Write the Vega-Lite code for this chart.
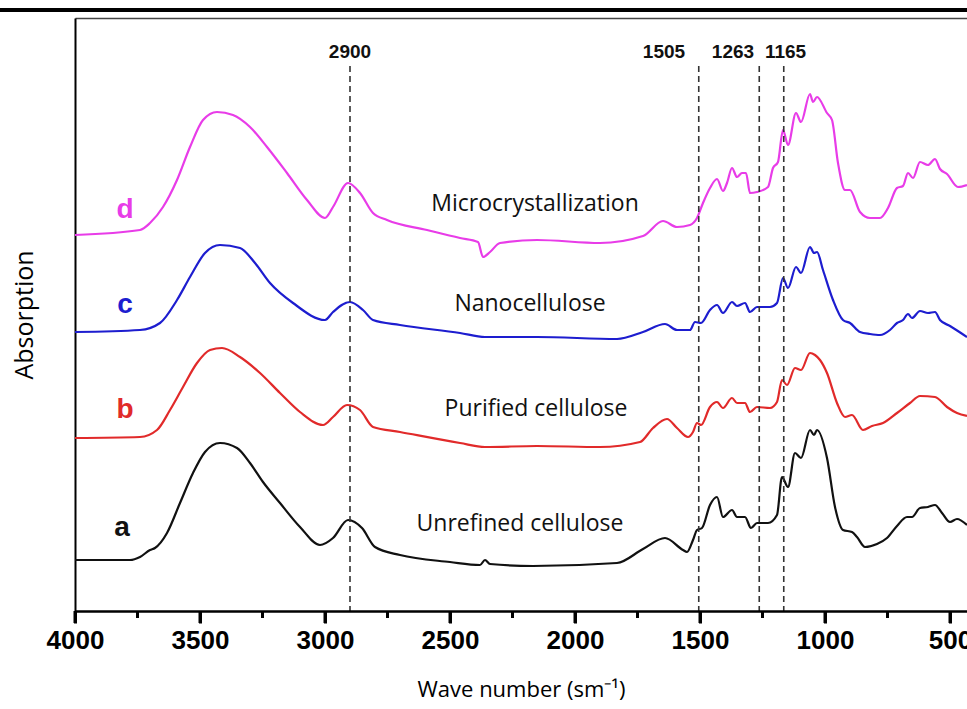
{
"$schema": "https://vega.github.io/schema/vega-lite/v6.json",
"width": 892, "height": 593,
"autosize": "none",
"padding": {"left": 75, "top": 18, "right": 0, "bottom": 98},
"background": "white",
"config": {"view": {"stroke": null}, "axis": {"grid": false}},
"datasets": {
"curves": [
{"s":"d","w":4000,"a":373},{"s":"d","w":3740,"a":378},{"s":"d","w":3700,"a":385},{"s":"d","w":3648,"a":401},{"s":"d","w":3592,"a":428},{"s":"d","w":3540,"a":461},{"s":"d","w":3488,"a":488},{"s":"d","w":3432,"a":496},{"s":"d","w":3368,"a":493},{"s":"d","w":3300,"a":481},{"s":"d","w":3232,"a":461},{"s":"d","w":3152,"a":435},{"s":"d","w":3072,"a":408},{"s":"d","w":3000,"a":390},{"s":"d","w":2968,"a":401},{"s":"d","w":2908,"a":425},{"s":"d","w":2860,"a":415},{"s":"d","w":2808,"a":395},{"s":"d","w":2752,"a":388},{"s":"d","w":2592,"a":378},{"s":"d","w":2460,"a":370},{"s":"d","w":2388,"a":366},{"s":"d","w":2368,"a":351},{"s":"d","w":2340,"a":356},{"s":"d","w":2300,"a":365},{"s":"d","w":2152,"a":368},{"s":"d","w":1900,"a":365},{"s":"d","w":1728,"a":372},{"s":"d","w":1648,"a":387},{"s":"d","w":1592,"a":381},{"s":"d","w":1540,"a":383},{"s":"d","w":1512,"a":390},{"s":"d","w":1488,"a":405},{"s":"d","w":1460,"a":420},{"s":"d","w":1432,"a":429},{"s":"d","w":1408,"a":417},{"s":"d","w":1392,"a":425},{"s":"d","w":1372,"a":440},{"s":"d","w":1352,"a":431},{"s":"d","w":1332,"a":435},{"s":"d","w":1316,"a":435},{"s":"d","w":1300,"a":415},{"s":"d","w":1272,"a":416},{"s":"d","w":1228,"a":421},{"s":"d","w":1208,"a":440},{"s":"d","w":1188,"a":446},{"s":"d","w":1168,"a":478},{"s":"d","w":1148,"a":463},{"s":"d","w":1116,"a":495},{"s":"d","w":1096,"a":486},{"s":"d","w":1060,"a":514},{"s":"d","w":1048,"a":506},{"s":"d","w":1032,"a":511},{"s":"d","w":992,"a":495},{"s":"d","w":972,"a":488},{"s":"d","w":948,"a":445},{"s":"d","w":920,"a":418},{"s":"d","w":900,"a":418},{"s":"d","w":860,"a":396},{"s":"d","w":820,"a":390},{"s":"d","w":780,"a":390},{"s":"d","w":748,"a":400},{"s":"d","w":712,"a":420},{"s":"d","w":688,"a":422},{"s":"d","w":668,"a":435},{"s":"d","w":648,"a":430},{"s":"d","w":620,"a":446},{"s":"d","w":588,"a":443},{"s":"d","w":560,"a":449},{"s":"d","w":540,"a":439},{"s":"d","w":512,"a":434},{"s":"d","w":468,"a":421},{"s":"d","w":432,"a":423},
{"s":"c","w":4000,"a":276},{"s":"c","w":3740,"a":278},{"s":"c","w":3660,"a":285},{"s":"c","w":3592,"a":308},{"s":"c","w":3540,"a":331},{"s":"c","w":3480,"a":355},{"s":"c","w":3420,"a":363},{"s":"c","w":3340,"a":360},{"s":"c","w":3280,"a":345},{"s":"c","w":3220,"a":325},{"s":"c","w":3128,"a":305},{"s":"c","w":3000,"a":288},{"s":"c","w":2968,"a":296},{"s":"c","w":2900,"a":306},{"s":"c","w":2848,"a":298},{"s":"c","w":2808,"a":288},{"s":"c","w":2700,"a":283},{"s":"c","w":2460,"a":275},{"s":"c","w":2360,"a":271},{"s":"c","w":2152,"a":271},{"s":"c","w":1832,"a":269},{"s":"c","w":1728,"a":276},{"s":"c","w":1640,"a":284},{"s":"c","w":1592,"a":278},{"s":"c","w":1540,"a":278},{"s":"c","w":1520,"a":286},{"s":"c","w":1496,"a":285},{"s":"c","w":1460,"a":298},{"s":"c","w":1432,"a":303},{"s":"c","w":1408,"a":295},{"s":"c","w":1372,"a":306},{"s":"c","w":1352,"a":302},{"s":"c","w":1320,"a":305},{"s":"c","w":1300,"a":296},{"s":"c","w":1272,"a":301},{"s":"c","w":1220,"a":301},{"s":"c","w":1192,"a":305},{"s":"c","w":1168,"a":330},{"s":"c","w":1148,"a":320},{"s":"c","w":1116,"a":341},{"s":"c","w":1096,"a":335},{"s":"c","w":1060,"a":361},{"s":"c","w":1044,"a":355},{"s":"c","w":1032,"a":356},{"s":"c","w":1008,"a":338},{"s":"c","w":968,"a":308},{"s":"c","w":928,"a":288},{"s":"c","w":900,"a":285},{"s":"c","w":860,"a":276},{"s":"c","w":820,"a":274},{"s":"c","w":780,"a":273},{"s":"c","w":740,"a":278},{"s":"c","w":712,"a":285},{"s":"c","w":688,"a":288},{"s":"c","w":668,"a":294},{"s":"c","w":652,"a":290},{"s":"c","w":620,"a":297},{"s":"c","w":588,"a":295},{"s":"c","w":560,"a":296},{"s":"c","w":540,"a":288},{"s":"c","w":500,"a":282},{"s":"c","w":432,"a":271},
{"s":"b","w":4000,"a":170},{"s":"b","w":3740,"a":171},{"s":"b","w":3672,"a":178},{"s":"b","w":3620,"a":198},{"s":"b","w":3568,"a":221},{"s":"b","w":3512,"a":245},{"s":"b","w":3460,"a":258},{"s":"b","w":3412,"a":260},{"s":"b","w":3340,"a":251},{"s":"b","w":3260,"a":235},{"s":"b","w":3180,"a":215},{"s":"b","w":3100,"a":196},{"s":"b","w":3008,"a":183},{"s":"b","w":2968,"a":191},{"s":"b","w":2912,"a":203},{"s":"b","w":2860,"a":198},{"s":"b","w":2808,"a":181},{"s":"b","w":2700,"a":176},{"s":"b","w":2460,"a":165},{"s":"b","w":2360,"a":161},{"s":"b","w":2152,"a":162},{"s":"b","w":1900,"a":161},{"s":"b","w":1740,"a":166},{"s":"b","w":1688,"a":180},{"s":"b","w":1632,"a":189},{"s":"b","w":1592,"a":180},{"s":"b","w":1548,"a":171},{"s":"b","w":1528,"a":176},{"s":"b","w":1512,"a":185},{"s":"b","w":1496,"a":183},{"s":"b","w":1460,"a":201},{"s":"b","w":1432,"a":206},{"s":"b","w":1408,"a":200},{"s":"b","w":1372,"a":210},{"s":"b","w":1352,"a":205},{"s":"b","w":1320,"a":205},{"s":"b","w":1300,"a":196},{"s":"b","w":1272,"a":201},{"s":"b","w":1220,"a":200},{"s":"b","w":1192,"a":206},{"s":"b","w":1172,"a":228},{"s":"b","w":1152,"a":223},{"s":"b","w":1120,"a":240},{"s":"b","w":1096,"a":238},{"s":"b","w":1060,"a":255},{"s":"b","w":1040,"a":253},{"s":"b","w":1020,"a":248},{"s":"b","w":992,"a":235},{"s":"b","w":952,"a":205},{"s":"b","w":920,"a":191},{"s":"b","w":892,"a":193},{"s":"b","w":848,"a":178},{"s":"b","w":812,"a":182},{"s":"b","w":768,"a":185},{"s":"b","w":712,"a":195},{"s":"b","w":660,"a":205},{"s":"b","w":620,"a":212},{"s":"b","w":560,"a":211},{"s":"b","w":512,"a":201},{"s":"b","w":472,"a":195},{"s":"b","w":432,"a":192},
{"s":"a","w":4000,"a":48},{"s":"a","w":3780,"a":48},{"s":"a","w":3740,"a":51},{"s":"a","w":3700,"a":58},{"s":"a","w":3680,"a":60},{"s":"a","w":3632,"a":75},{"s":"a","w":3580,"a":105},{"s":"a","w":3528,"a":135},{"s":"a","w":3480,"a":156},{"s":"a","w":3420,"a":165},{"s":"a","w":3352,"a":160},{"s":"a","w":3300,"a":145},{"s":"a","w":3248,"a":126},{"s":"a","w":3180,"a":105},{"s":"a","w":3100,"a":81},{"s":"a","w":3020,"a":63},{"s":"a","w":2968,"a":70},{"s":"a","w":2908,"a":88},{"s":"a","w":2852,"a":80},{"s":"a","w":2800,"a":61},{"s":"a","w":2700,"a":53},{"s":"a","w":2500,"a":46},{"s":"a","w":2380,"a":43},{"s":"a","w":2360,"a":48},{"s":"a","w":2340,"a":44},{"s":"a","w":2168,"a":42},{"s":"a","w":1832,"a":45},{"s":"a","w":1728,"a":59},{"s":"a","w":1640,"a":70},{"s":"a","w":1568,"a":58},{"s":"a","w":1552,"a":56},{"s":"a","w":1528,"a":68},{"s":"a","w":1512,"a":78},{"s":"a","w":1492,"a":80},{"s":"a","w":1460,"a":103},{"s":"a","w":1432,"a":111},{"s":"a","w":1408,"a":91},{"s":"a","w":1372,"a":98},{"s":"a","w":1352,"a":91},{"s":"a","w":1320,"a":91},{"s":"a","w":1296,"a":80},{"s":"a","w":1272,"a":85},{"s":"a","w":1228,"a":85},{"s":"a","w":1192,"a":93},{"s":"a","w":1172,"a":131},{"s":"a","w":1148,"a":121},{"s":"a","w":1120,"a":155},{"s":"a","w":1096,"a":150},{"s":"a","w":1060,"a":178},{"s":"a","w":1044,"a":173},{"s":"a","w":1032,"a":178},{"s":"a","w":992,"a":150},{"s":"a","w":960,"a":101},{"s":"a","w":928,"a":78},{"s":"a","w":892,"a":76},{"s":"a","w":872,"a":71},{"s":"a","w":840,"a":61},{"s":"a","w":792,"a":64},{"s":"a","w":752,"a":70},{"s":"a","w":712,"a":82},{"s":"a","w":672,"a":91},{"s":"a","w":652,"a":91},{"s":"a","w":620,"a":100},{"s":"a","w":588,"a":101},{"s":"a","w":560,"a":103},{"s":"a","w":532,"a":95},{"s":"a","w":500,"a":86},{"s":"a","w":472,"a":89},{"s":"a","w":432,"a":83}
],
"peaks": [
{"w":2900,"a":542,"a0":-3},{"w":1505,"a":542,"a0":-3},{"w":1263,"a":542,"a0":-3},{"w":1165,"a":542,"a0":-3}
],
"axisTicks": [
{"w":4000,"a":-3,"a0":-15},{"w":3750,"a":-3,"a0":-10},{"w":3500,"a":-3,"a0":-15},{"w":3250,"a":-3,"a0":-10},{"w":3000,"a":-3,"a0":-15},{"w":2750,"a":-3,"a0":-10},{"w":2500,"a":-3,"a0":-15},{"w":2250,"a":-3,"a0":-10},{"w":2000,"a":-3,"a0":-15},{"w":1750,"a":-3,"a0":-10},{"w":1500,"a":-3,"a0":-15},{"w":1250,"a":-3,"a0":-10},{"w":1000,"a":-3,"a0":-15},{"w":750,"a":-3,"a0":-10},{"w":500,"a":-3,"a0":-15}
],
"peakLabels": [
{"w":2900,"a":556,"t":"2900"},{"w":1644,"a":556,"t":"1505"},{"w":1368,"a":556,"t":"1263"},{"w":1158,"a":556,"t":"1165"}
],
"names": [
{"w":2160,"a":404,"t":"Microcrystallization"},{"w":2180,"a":304,"t":"Nanocellulose"},{"w":2156,"a":199,"t":"Purified cellulose"},{"w":2220,"a":84,"t":"Unrefined cellulose"}
],
"letters": [
{"s":"d","w":3800,"a":398,"t":"d"},{"s":"c","w":3800,"a":303,"t":"c"},{"s":"b","w":3800,"a":198,"t":"b"},{"s":"a","w":3812,"a":80,"t":"a"}
],
"bar": [{"w":4300,"w2":432,"a":598}]
},
"encoding": {
"y": {"field": "a", "type": "quantitative", "scale": {"domain": [-3, 590], "nice": false, "zero": false},
"axis": {"domain": true, "domainColor": "black", "domainWidth": 2, "ticks": false, "labels": false, "grid": false,
"title": "Absorption", "titleFont": "Open Sans", "titleFontWeight": "normal", "titleFontSize": 25, "titleColor": "black", "titlePadding": 38}}
},
"layer": [
{"data": {"name": "curves"}, "mark": {"type": "line", "strokeWidth": 2.2, "interpolate": "monotone"},
"encoding": {
"x": {"field": "w", "type": "quantitative", "scale": {"domain": [432, 4000], "reverse": true, "nice": false, "zero": false},
"axis": {"orient": "bottom", "zindex": 1, "values": [4000,3500,3000,2500,2000,1500,1000,500], "format": "d",
"domain": true, "domainColor": "black", "domainWidth": 2.5, "ticks": true, "tickColor": "black", "tickWidth": 3, "tickSize": 12,
"labelFont": "Liberation Sans", "labelFontWeight": "bold", "labelFontSize": 26, "labelColor": "black", "labelPadding": 4, "labelFlush": false,
"title": "Wave number (sm⁻¹)", "titleFont": "Open Sans", "titleFontWeight": "normal", "titleFontSize": 22, "titleColor": "black", "titlePadding": 26}},
"color": {"field": "s", "type": "nominal", "scale": {"domain": ["a","b","c","d"], "range": ["#111111","#e12a2a","#1d1dcf","#e83ce8"]}, "legend": null}
}},
{"data": {"name": "axisTicks"}, "mark": {"type": "rule", "strokeWidth": 3, "color": "black", "clip": false},
"encoding": {
"x": {"field": "w", "type": "quantitative", "scale": {"domain": [432, 4000], "reverse": true, "nice": false, "zero": false}, "axis": null},
"y2": {"field": "a0"}
}},
{"data": {"name": "peaks"}, "mark": {"type": "rule", "strokeDash": [6, 4], "strokeWidth": 1.6, "color": "#333333"},
"encoding": {
"x": {"field": "w", "type": "quantitative", "scale": {"domain": [432, 4000], "reverse": true, "nice": false, "zero": false}, "axis": null},
"y2": {"field": "a0"}
}},
{"data": {"name": "peakLabels"}, "mark": {"type": "text", "font": "Liberation Sans", "fontWeight": "bold", "fontSize": 19, "color": "#111111"},
"encoding": {
"x": {"field": "w", "type": "quantitative", "scale": {"domain": [432, 4000], "reverse": true, "nice": false, "zero": false},
"axis": {"orient": "top", "domain": true, "domainColor": "#444444", "domainWidth": 1.5, "ticks": false, "labels": false, "title": null, "grid": false}},
"text": {"field": "t"}
}},
{"data": {"name": "names"}, "mark": {"type": "text", "font": "Open Sans", "fontSize": 23, "color": "#111111"},
"encoding": {
"x": {"field": "w", "type": "quantitative", "scale": {"domain": [432, 4000], "reverse": true, "nice": false, "zero": false}, "axis": null},
"text": {"field": "t"}
}},
{"data": {"name": "letters"}, "mark": {"type": "text", "font": "Liberation Sans", "fontWeight": "bold", "fontSize": 28},
"encoding": {
"x": {"field": "w", "type": "quantitative", "scale": {"domain": [432, 4000], "reverse": true, "nice": false, "zero": false}, "axis": null},
"text": {"field": "t"},
"color": {"field": "s", "type": "nominal", "legend": null}
}},
{"data": {"name": "bar"}, "mark": {"type": "rule", "strokeWidth": 4, "color": "black", "clip": false},
"encoding": {
"x": {"field": "w", "type": "quantitative", "scale": {"domain": [432, 4000], "reverse": true, "nice": false, "zero": false}, "axis": null},
"x2": {"field": "w2"}
}}
],
"resolve": {"axis": {"x": "independent"}}
}
